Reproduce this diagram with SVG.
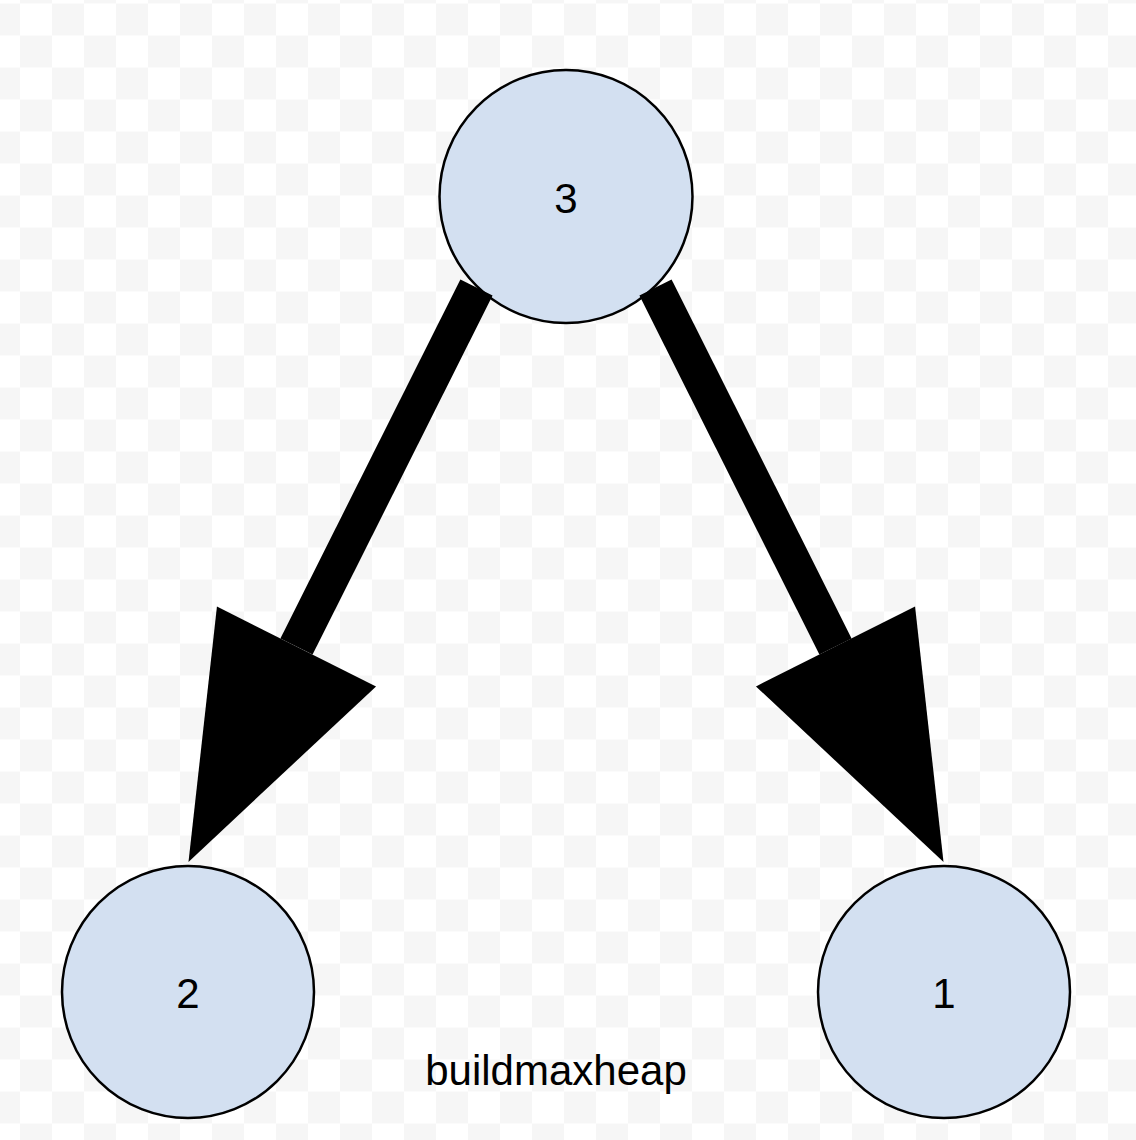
<svg xmlns="http://www.w3.org/2000/svg" width="1136" height="1140" viewBox="0 0 1136 1140">
<style>
.node circle{fill:#d3e0f1;stroke:#000;stroke-width:2.5}
.node text{font-family:"Liberation Sans",Arial,sans-serif;font-size:42px;fill:#000;text-anchor:middle}
.edge{stroke:#000;stroke-width:36;fill:none;stroke-linecap:butt}
.label{font-family:"Liberation Sans",Arial,sans-serif;font-size:42px;fill:#000;text-anchor:middle}
</style>
<defs>
<pattern id="checker" x="-12" y="3.5" width="64" height="64" patternUnits="userSpaceOnUse">
<rect width="64" height="64" fill="#ffffff"/>
<rect x="0" y="0" width="32" height="32" fill="#f6f6f6"/>
<rect x="32" y="32" width="32" height="32" fill="#f6f6f6"/>
</pattern>
<marker id="head" markerUnits="userSpaceOnUse" viewBox="0 -89 241 178" refX="0" refY="0" markerWidth="241" markerHeight="178" orient="auto" overflow="visible">
<path d="M0,-89 L241,0 L0,89 Z" fill="#000"/>
</marker>
</defs>
<rect width="1136" height="1140" fill="url(#checker)"/>
<g id="node-3" class="node">
<circle cx="566" cy="196.5" r="126.5"/>
<text x="566" y="213">3</text>
</g>
<g id="node-2" class="node">
<circle cx="188" cy="992" r="126"/>
<text x="188" y="1008">2</text>
</g>
<g id="node-1" class="node">
<circle cx="944" cy="992" r="126"/>
<text x="944" y="1008">1</text>
</g>
<g id="connectors">
<line class="edge" x1="476.5" y1="287.5" x2="296.5" y2="646.5" marker-end="url(#head)"/>
<line class="edge" x1="655.5" y1="287.5" x2="835.5" y2="646.5" marker-end="url(#head)"/>
</g>
<text id="caption" class="label" x="556" y="1085">buildmaxheap</text>
</svg>
